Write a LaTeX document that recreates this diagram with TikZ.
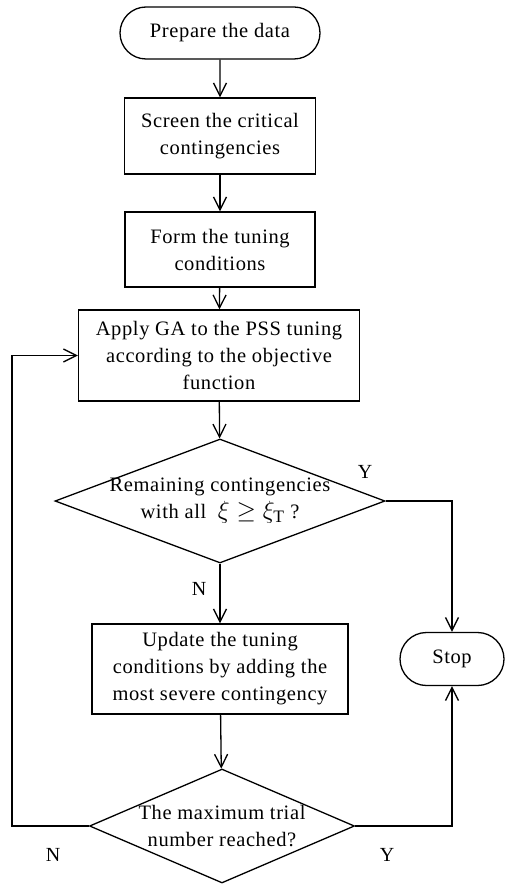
\documentclass[tikz,border=0pt]{standalone}
\usepackage{fontspec}
\setmainfont[LetterSpace=3]{Liberation Serif}
\usetikzlibrary{shapes.geometric,shapes.misc,arrows.meta}
\tikzset{
  proc/.style={draw, line width=1.3pt, align=center, inner sep=0pt},
  term/.style={draw, line width=1.3pt, rounded rectangle, inner sep=0pt},
  decide/.style={draw, line width=1.3pt, diamond, align=center, inner sep=0pt},
  flow/.style={line width=1.3pt, -{Straight Barb[length=13pt,width=13pt,line width=1.3pt]}},
  yn/.style={font=\fontsize{20}{24}\selectfont}
}
\begin{document}
\begin{tikzpicture}[x=1pt,y=-1pt,font=\fontsize{20.5}{27}\selectfont]
\useasboundingbox (0,0) rectangle (504,885);
\node[term, minimum width=200pt, minimum height=52pt] (start) at (220,33) {Prepare the data};
\node[proc, minimum width=191pt, minimum height=76pt] (screen) at (220,136) {Screen the critical\\contingencies};
\node[proc, minimum width=190pt, minimum height=75pt] (form) at (220,249.5) {Form the tuning\\conditions};
\node[proc, minimum width=281pt, minimum height=91pt] (apply) at (219,355.5) {Apply GA to the PSS tuning\\according to the objective\\function};
\node[decide, minimum width=330pt, minimum height=124pt, shape aspect=2.66, inner xsep=-14pt, inner ysep=-4pt] (remain) at (220,501) {Remaining contingencies\\with all \ {\fontsize{25}{27}\selectfont$\xi\geq\xi_{\mathrm{T}}$} ?};
\node[proc, minimum width=256pt, minimum height=90pt] (update) at (220,669) {Update the tuning\\conditions by adding the\\most severe contingency};
\node[term, minimum width=104pt, minimum height=53pt] (stop) at (452,659) {Stop};
\node[decide, minimum width=265pt, minimum height=114pt, shape aspect=2.32, inner xsep=-30pt, inner ysep=-8pt] (maxtrial) at (222,826) {The maximum trial\\number reached?};
\coordinate (loop) at (12,826);
\draw[flow] (start) -- (screen);
\draw[flow] (screen) -- (form);
\draw[flow] (form) -- (apply);
\draw[flow] (apply) -- (remain);
\draw[flow] (remain) -- (update);
\draw[flow] (update) -- (maxtrial);
\draw[flow] (remain.east) -| (stop.north);
\draw[flow] (maxtrial.east) -| (stop.south);
\draw[flow] (maxtrial.west) -- (loop) |- (apply.west);
\node[yn] (y1) at (365,472) {Y};
\node[yn] (n1) at (199,589) {N};
\node[yn] (n2) at (53,855) {N};
\node[yn] (y2) at (387,855) {Y};
\end{tikzpicture}
\end{document}
